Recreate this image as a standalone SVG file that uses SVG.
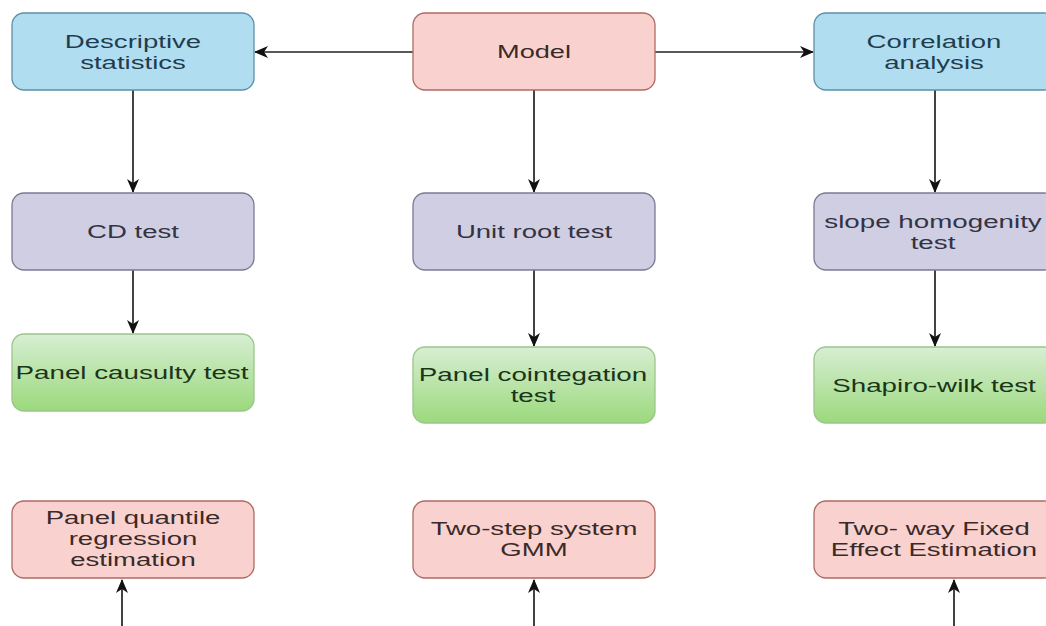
<svg xmlns="http://www.w3.org/2000/svg" width="1046" height="626" viewBox="0 0 1046 626">
<style>
  .box{stroke-width:1.3}
  .blue{fill:#b1ddf0;stroke:#5f8fa6}
  .pink{fill:#f9d2cf;stroke:#b06a64}
  .purple{fill:#d0cee2;stroke:#7d7894}
  .green{fill:url(#gr);stroke:#9cc58a}
  text{font-family:"Liberation Sans",Arial,sans-serif;font-size:18.5px;text-anchor:middle}
  .tb{fill:#1f3d50}
  .tp{fill:#3a2a2a}
  .tu{fill:#333344}
  .tg{fill:#1a351a}
  .conn{stroke:#222;stroke-width:1.7;fill:none}
</style>
<defs>
  <linearGradient id="gr" x1="0" y1="0" x2="0" y2="1">
    <stop offset="0" stop-color="#d7eed3"/>
    <stop offset="1" stop-color="#9bd97c"/>
  </linearGradient>
  <marker id="ah" viewBox="0 0 14 12" refX="13" refY="6" markerWidth="14" markerHeight="12" markerUnits="userSpaceOnUse" orient="auto">
    <path d="M0,0 L14,6 L0,12 L4,6 z" fill="#111"/>
  </marker>
</defs>

<g id="connectors">
  <line class="conn" x1="413" y1="52" x2="255" y2="52" marker-end="url(#ah)"/>
  <line class="conn" x1="655" y1="52" x2="813" y2="52" marker-end="url(#ah)"/>
  <line class="conn" x1="133" y1="90" x2="133" y2="192" marker-end="url(#ah)"/>
  <line class="conn" x1="534" y1="90" x2="534" y2="192" marker-end="url(#ah)"/>
  <line class="conn" x1="935" y1="90" x2="935" y2="192" marker-end="url(#ah)"/>
  <line class="conn" x1="133" y1="270" x2="133" y2="333" marker-end="url(#ah)"/>
  <line class="conn" x1="534" y1="270" x2="534" y2="346" marker-end="url(#ah)"/>
  <line class="conn" x1="935" y1="270" x2="935" y2="346" marker-end="url(#ah)"/>
  <line class="conn" x1="122" y1="626" x2="122" y2="580" marker-end="url(#ah)"/>
  <line class="conn" x1="534" y1="626" x2="534" y2="580" marker-end="url(#ah)"/>
  <line class="conn" x1="954" y1="626" x2="954" y2="580" marker-end="url(#ah)"/>
</g>

<g id="descriptive">
  <rect class="box blue" x="12" y="13" width="242" height="77" rx="12"/>
  <g transform="translate(133 0) scale(1.49 1)"><text class="tb" x="0" y="48">Descriptive</text><text class="tb" x="0" y="69">statistics</text></g>
</g>
<g id="model">
  <rect class="box pink" x="413" y="13" width="242" height="77" rx="12"/>
  <g transform="translate(534 0) scale(1.47 1)"><text class="tp" x="0" y="58">Model</text></g>
</g>
<g id="correlation">
  <rect class="box blue" x="814" y="13" width="242" height="77" rx="12"/>
  <g transform="translate(934 0) scale(1.49 1)"><text class="tb" x="0" y="48">Correlation</text><text class="tb" x="0" y="69">analysis</text></g>
</g>

<g id="cd">
  <rect class="box purple" x="12" y="193" width="242" height="77" rx="12"/>
  <g transform="translate(133 0) scale(1.49 1)"><text class="tu" x="0" y="238">CD test</text></g>
</g>
<g id="unitroot">
  <rect class="box purple" x="413" y="193" width="242" height="77" rx="12"/>
  <g transform="translate(534 0) scale(1.49 1)"><text class="tu" x="0" y="238">Unit root test</text></g>
</g>
<g id="slope">
  <rect class="box purple" x="814" y="193" width="242" height="77" rx="12"/>
  <g transform="translate(933 0) scale(1.5 1)"><text class="tu" x="0" y="228">slope homogenity</text><text class="tu" x="0" y="249">test</text></g>
</g>

<g id="causality">
  <rect class="box green" x="12" y="334" width="242" height="77" rx="12"/>
  <g transform="translate(132 0) scale(1.5 1)"><text class="tg" x="0" y="379">Panel causulty test</text></g>
</g>
<g id="cointegration">
  <rect class="box green" x="413" y="347" width="242" height="76" rx="12"/>
  <g transform="translate(533 0) scale(1.5 1)"><text class="tg" x="0" y="381">Panel cointegation</text><text class="tg" x="0" y="402">test</text></g>
</g>
<g id="shapiro">
  <rect class="box green" x="814" y="347" width="242" height="76" rx="12"/>
  <g transform="translate(934 0) scale(1.5 1)"><text class="tg" x="0" y="392">Shapiro-wilk test</text></g>
</g>

<g id="quantile">
  <rect class="box pink" x="12" y="501" width="242" height="77" rx="12"/>
  <g transform="translate(133 0) scale(1.49 1)"><text class="tp" x="0" y="524">Panel quantile</text><text class="tp" x="0" y="545">regression</text><text class="tp" x="0" y="566">estimation</text></g>
</g>
<g id="gmm">
  <rect class="box pink" x="413" y="501" width="242" height="77" rx="12"/>
  <g transform="translate(534 0) scale(1.49 1)"><text class="tp" x="0" y="535">Two-step system</text><text class="tp" x="0" y="556">GMM</text></g>
</g>
<g id="fixed">
  <rect class="box pink" x="814" y="501" width="242" height="77" rx="12"/>
  <g transform="translate(934 0) scale(1.49 1)"><text class="tp" x="0" y="535">Two- way Fixed</text><text class="tp" x="0" y="556">Effect Estimation</text></g>
</g>
</svg>
